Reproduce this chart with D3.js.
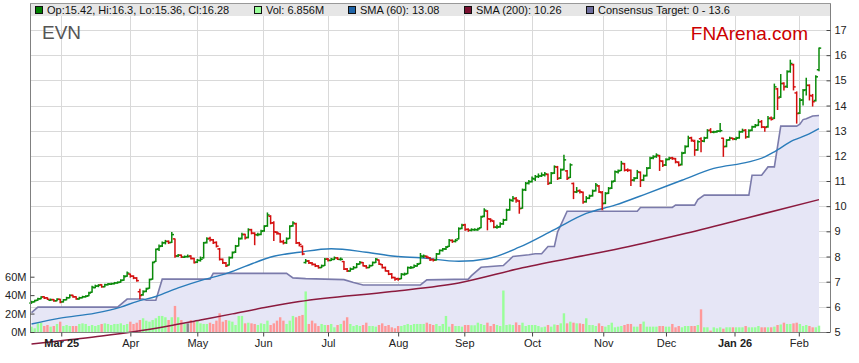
<!DOCTYPE html>
<html>
<head>
<meta charset="utf-8">
<script src="https://cdn.jsdelivr.net/npm/d3@7"></script>
<style>
body { margin: 0; background: #fff; }
svg { display: block; font-family: "Liberation Sans", Arial, sans-serif; }
</style>
</head>
<body>
<script>
const ticker = "EVN";
const site = "FNArena.com";

// US market holidays inside the range
const holidays = ["2025-02-17","2025-04-18","2025-05-26","2025-06-19","2025-07-04",
  "2025-09-01","2025-11-27","2025-12-25","2026-01-01","2026-01-19"];
const firstDay = new Date(2025, 1, 14);
const lastDay = new Date(2026, 1, 10);

// daily bars [open, high, low, close]
const ohlc = [
  [6.15,6.24,6.12,6.19],[6.20,6.28,6.18,6.25],[6.26,6.36,6.24,6.32],[6.32,6.42,6.30,6.39],[6.40,6.42,6.31,6.35],[6.36,6.38,6.27,6.30],[6.26,6.33,6.24,6.28],[6.29,6.31,6.20,6.24],[6.24,6.34,6.22,6.30],[6.30,6.32,6.14,6.19],
  [6.20,6.31,6.17,6.28],[6.28,6.40,6.26,6.36],[6.36,6.50,6.34,6.45],[6.46,6.48,6.36,6.40],[6.40,6.42,6.28,6.32],[6.31,6.40,6.29,6.36],[6.36,6.44,6.34,6.40],[6.40,6.46,6.37,6.42],[6.44,6.60,6.42,6.55],[6.58,6.84,6.56,6.78],
  [6.76,6.88,6.74,6.82],[6.83,6.90,6.78,6.86],[6.88,6.90,6.76,6.80],[6.80,6.92,6.78,6.88],[6.88,6.95,6.85,6.91],[6.90,6.96,6.87,6.92],[6.92,6.99,6.89,6.95],[6.95,7.01,6.92,6.97],[6.98,7.10,6.96,7.05],[7.06,7.26,7.04,7.20],
  [7.22,7.40,7.20,7.34],[7.30,7.32,7.16,7.22],[7.22,7.25,7.10,7.15],[7.14,7.18,7.00,7.04],[6.60,6.72,6.30,6.45],[6.48,6.66,6.44,6.60],[6.62,6.76,6.58,6.71],[6.74,7.12,6.72,7.08],[7.10,7.80,7.08,7.76],[7.80,8.32,7.78,8.28],
  [8.30,8.48,8.22,8.40],[8.42,8.60,8.38,8.54],[8.55,8.66,8.48,8.60],[8.60,8.64,8.50,8.55],[8.56,8.97,8.54,8.87],[8.70,8.72,7.95,8.02],[8.02,8.10,7.98,8.05],[8.05,8.08,7.94,7.98],[7.97,8.04,7.94,7.99],[8.00,8.08,7.96,8.00],
  [8.02,8.05,7.88,7.92],[7.92,7.95,7.72,7.76],[7.78,7.90,7.74,7.85],[7.84,8.00,7.80,7.89],[7.95,8.58,7.92,8.54],[8.56,8.76,8.52,8.70],[8.72,8.78,8.60,8.67],[8.66,8.70,8.50,8.55],[8.56,8.60,8.36,8.41],[8.30,8.34,7.84,7.89],
  [7.88,7.92,7.70,7.75],[7.74,7.78,7.58,7.63],[7.66,8.00,7.64,7.95],[7.96,8.20,7.92,8.15],[8.18,8.46,8.14,8.41],[8.42,8.76,8.40,8.70],[8.72,8.94,8.68,8.87],[8.88,8.90,8.68,8.74],[8.76,9.12,8.72,9.07],[9.06,9.10,8.88,8.93],
  [8.92,8.96,8.45,8.87],[8.86,8.94,8.80,8.87],[8.88,9.06,8.84,9.00],[9.02,9.24,8.98,9.20],[9.22,9.75,9.18,9.65],[9.60,9.64,9.28,9.33],[9.34,9.40,8.62,8.98],[8.96,9.00,8.86,8.93],[8.90,8.92,8.55,8.60],[8.58,8.66,8.48,8.54],
  [8.55,8.76,8.50,8.70],[8.72,9.24,8.70,9.20],[9.22,9.40,9.18,9.33],[9.30,9.34,8.50,8.54],[8.54,8.58,8.40,8.48],[8.40,8.44,8.05,8.10],[7.76,7.90,7.72,7.82],[7.82,7.86,7.70,7.75],[7.74,7.78,7.64,7.69],[7.68,7.72,7.58,7.63],
  [7.62,7.66,7.52,7.56],[7.56,7.68,7.54,7.63],[7.64,7.94,7.62,7.89],[7.90,7.94,7.80,7.85],[7.84,7.94,7.82,7.89],[7.88,8.00,7.86,7.95],[7.94,7.98,7.86,7.89],[7.88,7.96,7.84,7.89],[7.80,7.82,7.46,7.50],[7.50,7.54,7.38,7.43],
  [7.42,7.56,7.40,7.50],[7.50,7.62,7.48,7.56],[7.56,7.74,7.54,7.69],[7.70,7.82,7.68,7.76],[7.76,7.78,7.60,7.63],[7.62,7.66,7.52,7.56],[7.56,7.68,7.54,7.63],[7.64,7.80,7.62,7.76],[7.76,7.94,7.74,7.89],[7.86,7.88,7.66,7.70],
  [7.68,7.70,7.52,7.56],[7.56,7.60,7.40,7.43],[7.42,7.46,7.26,7.30],[7.30,7.34,7.12,7.17],[7.16,7.20,7.04,7.10],[7.12,7.16,7.04,7.10],[7.12,7.34,7.10,7.30],[7.28,7.36,7.24,7.30],[7.32,7.60,7.30,7.56],[7.55,7.62,7.50,7.56],
  [7.56,7.68,7.54,7.63],[7.62,7.74,7.60,7.69],[7.72,8.14,7.70,8.02],[8.00,8.08,7.94,8.02],[8.00,8.04,7.92,7.97],[7.95,7.98,7.82,7.87],[7.88,7.92,7.80,7.85],[7.86,8.14,7.84,8.10],[8.10,8.28,8.08,8.24],[8.24,8.34,8.20,8.30],
  [8.30,8.42,8.26,8.37],[8.40,8.70,8.38,8.64],[8.64,8.68,8.54,8.60],[8.60,8.70,8.56,8.64],[8.70,9.16,8.68,9.10],[9.12,9.30,9.08,9.24],[9.26,9.30,9.02,9.07],[9.08,9.12,8.98,9.04],[9.04,9.12,9.00,9.07],[9.06,9.12,9.02,9.07],
  [9.06,9.14,9.02,9.10],[9.14,9.62,9.12,9.57],[9.60,9.92,9.56,9.84],[9.80,9.84,9.04,9.50],[9.48,9.52,9.36,9.44],[9.40,9.44,9.12,9.17],[9.16,9.26,9.10,9.17],[9.18,9.36,9.14,9.30],[9.30,9.50,9.26,9.44],[9.46,9.90,9.42,9.84],
  [9.86,10.30,9.82,10.24],[10.22,10.40,10.18,10.31],[10.30,10.36,10.14,10.24],[10.20,10.24,9.70,9.90],[9.92,10.70,9.90,10.64],[10.66,10.96,10.60,10.90],[10.92,11.04,10.86,10.97],[10.98,11.18,10.94,11.10],[11.08,11.24,11.00,11.17],[11.18,11.30,11.12,11.20],
  [11.20,11.34,11.16,11.24],[11.24,11.36,11.18,11.28],[11.26,11.30,10.84,10.90],[10.92,11.36,10.88,11.30],[11.32,11.62,11.28,11.57],[11.55,11.60,11.04,11.10],[11.12,11.50,11.08,11.44],[11.46,12.04,11.42,11.84],[11.40,11.44,11.04,11.10],[11.14,11.70,11.12,11.64],
  [10.90,10.94,10.28,10.57],[10.56,10.76,10.52,10.60],[10.62,10.66,10.50,10.57],[10.55,10.58,10.10,10.17],[10.18,10.40,10.14,10.31],[10.32,10.46,10.28,10.40],[10.42,10.66,10.38,10.60],[10.62,10.92,10.58,10.84],[10.80,10.84,10.52,10.57],[10.54,10.60,9.84,10.10],
  [10.12,10.56,10.08,10.50],[10.52,10.76,10.48,10.70],[10.72,11.02,10.68,10.97],[11.00,11.42,10.96,11.37],[11.36,11.46,11.30,11.40],[11.42,11.80,11.40,11.70],[11.68,11.72,11.38,11.43],[11.44,11.50,11.36,11.43],[11.42,11.46,10.80,11.03],[11.04,11.16,10.98,11.10],
  [11.12,11.44,11.08,11.36],[11.34,11.38,10.76,11.03],[11.04,11.26,11.00,11.20],[11.22,11.56,11.18,11.50],[11.52,11.96,11.48,11.90],[11.92,12.02,11.86,11.96],[11.98,12.10,11.92,12.03],[12.00,12.04,11.40,11.80],[11.78,11.82,11.56,11.63],[11.64,11.90,11.60,11.85],
  [11.86,11.96,11.82,11.90],[11.92,11.96,11.84,11.90],[11.88,11.92,11.70,11.76],[11.74,11.78,11.58,11.63],[11.66,12.16,11.62,12.10],[12.12,12.42,12.08,12.36],[12.38,12.80,12.34,12.70],[12.72,12.76,12.56,12.62],[12.58,12.64,12.00,12.23],[12.24,12.62,12.20,12.56],
  [12.68,12.74,12.14,12.60],[12.58,12.76,12.54,12.70],[12.72,13.06,12.68,13.00],[13.02,13.10,12.90,12.95],[12.94,13.00,12.90,12.95],[12.96,13.02,12.92,12.98],[12.98,13.30,12.94,13.00],[12.70,12.72,11.96,12.36],[12.38,12.66,12.34,12.62],[12.64,12.76,12.60,12.70],
  [12.70,12.72,12.62,12.68],[12.66,12.76,12.62,12.70],[12.72,13.00,12.68,12.95],[12.96,13.08,12.92,13.00],[13.02,13.06,12.68,12.75],[12.76,13.06,12.72,13.00],[13.02,13.20,12.98,13.15],[13.16,13.26,13.12,13.20],[13.22,13.46,13.18,13.35],[13.36,13.42,13.10,13.15],
  [13.14,13.18,12.96,13.13],[13.16,13.58,13.12,13.48],[13.50,13.56,13.40,13.45],[13.50,14.87,13.46,14.74],[14.66,14.70,13.82,14.30],[14.34,15.25,14.30,14.87],[14.88,14.92,14.60,14.74],[14.76,15.40,14.70,15.34],[15.36,15.82,15.30,15.67],[15.62,15.66,14.60,14.74],
  [14.50,14.56,13.28,13.68],[13.70,14.30,13.66,14.21],[14.22,14.66,14.00,14.60],[14.62,15.10,14.40,14.80],[14.80,14.84,14.20,14.40],[14.38,14.46,13.96,14.15],[14.20,15.20,14.16,15.14],[15.42,16.30,15.36,16.28]
];

// daily volume, millions
const volumes = [
  5.8,4.0,9.4,10.1,6.5,7.6,5.8,6.5,8.7,11.2,
  6.5,7.6,6.5,6.5,6.5,8.7,9.4,8.7,6.5,7.6,
  6.5,7.6,8.7,9.4,8.7,7.6,8.7,8.7,9.4,7.6,
  8.7,11.2,8.7,10.1,13.0,14.9,12.3,11.2,13.0,14.9,
  17.4,17.4,16.0,13.0,16.0,28.3,16.0,13.0,8.7,9.4,
  13.0,11.2,12.3,9.4,8.7,8.7,10.1,8.7,12.3,20.3,
  11.2,13.0,12.3,11.2,7.6,17.4,17.4,9.4,10.1,9.4,
  8.7,7.6,9.4,8.7,12.3,7.6,9.4,12.3,16.0,12.3,
  8.7,12.3,17.4,16.0,17.4,18.5,44.0,8.7,12.3,9.4,
  6.5,8.7,7.6,7.6,8.7,5.1,7.6,8.7,12.3,16.0,
  8.7,6.5,7.6,6.5,7.6,10.1,6.5,6.5,5.8,7.6,
  9.4,6.5,7.6,5.1,4.0,6.5,6.5,7.6,8.7,7.6,
  8.7,8.7,8.7,8.7,10.1,8.7,7.6,8.7,6.5,8.7,
  17.4,5.8,8.7,6.5,6.5,5.8,7.6,7.6,7.3,7.3,
  10.1,8.7,7.6,10.1,6.5,8.7,7.6,6.5,45.0,7.6,
  8.2,7.6,10.4,7.6,10.1,6.5,7.6,7.6,7.6,6.5,
  5.1,5.8,7.6,5.8,8.2,7.6,9.4,20.3,9.4,11.2,
  10.1,9.4,9.4,8.7,14.9,7.6,7.6,6.5,9.4,6.5,
  5.8,7.6,10.1,5.1,5.8,6.5,7.6,8.7,8.7,5.8,
  5.8,8.7,11.3,5.8,5.8,5.8,5.8,6.5,6.5,5.8,
  5.8,8.7,5.1,6.5,5.1,6.5,6.5,6.5,6.5,7.6,
  24.6,5.1,5.1,1.5,5.1,4.0,5.1,3.6,5.1,5.1,
  5.1,5.1,5.1,5.1,6.5,5.1,5.1,5.1,6.5,5.1,
  5.1,5.1,5.1,5.8,7.6,8.2,10.1,8.7,8.7,9.4,
  10.1,8.7,6.5,7.6,6.5,5.1,5.1,6.856
];

// [bar index, value]
const sma60 = [[0,5.32],[9,5.55],[20,5.75],[28,5.99],[33,6.21],[39,6.41],[46,6.75],[54,7.08],
  [61,7.32],[67,7.61],[76,8.01],[84,8.17],[94,8.31],[105,8.17],[114,8.01],[122,7.95],[134,7.81],
  [143,7.91],[153,8.37],[164,9.07],[174,9.71],[183,10.04],[193,10.5],[204,11.03],[214,11.5],
  [225,11.76],[230,11.96],[233,12.16],[239,12.62],[243,12.82],[247,13.08]];
const sma200 = [[0,4.52],[11,4.68],[22,4.84],[32,5.01],[43,5.24],[53,5.48],[63,5.72],[74,5.99],
  [84,6.21],[113,6.61],[134,6.95],[154,7.55],[175,8.08],[183,8.28],[204,8.88],[225,9.55],[247,10.26]];
const target = [[0,5.77],[2,5.99],[27,5.99],[30,6.31],[35,6.31],[36,6.26],[39,6.26],[41,7.10],
  [56,7.10],[57,7.33],[80,7.33],[82,7.15],[86,7.12],[98,7.08],[101,6.97],[104,6.87],[122,6.87],
  [124,7.07],[137,7.10],[138,7.24],[141,7.57],[148,7.64],[151,8.00],[156,8.07],[158,8.11],[160,8.11],
  [162,8.40],[164,8.40],[165,8.97],[168,9.80],[190,9.80],[191,9.95],[201,9.95],[202,10.04],[208,10.04],
  [209,10.26],[211,10.44],[225,10.44],[226,11.23],[229,11.23],[231,11.56],[233,11.56],[235,13.18],
  [240,13.18],[241,13.26],[242,13.44],[243,13.47],[245,13.58],[247,13.60]];

const monthLabels = ["Mar 25","Apr","May","Jun","Jul","Aug","Sep","Oct","Nov","Dec","Jan 26","Feb"];
const priceTicks = [5,6,7,8,9,10,11,12,13,14,15,16,17];
const volTicks = [0,20,40,60];

// trading calendar
const fmtDay = d3.timeFormat("%Y-%m-%d");
const dates = d3.timeDay.range(firstDay, d3.timeDay.offset(lastDay, 1))
  .filter(d => d.getDay() !== 0 && d.getDay() !== 6 && !holidays.includes(fmtDay(d)));

const bars = dates.map((d, i) => ({
  date: d, open: ohlc[i][0], high: ohlc[i][1], low: ohlc[i][2], close: ohlc[i][3], vol: volumes[i]
}));

const width = 859, height = 363;
const plotL = 30, plotR = 830, plotT = 3, plotB = 332, bandB = 16;

const step = (819 - 31.5) / (dates.length - 1);
const x = d3.scaleTime()
  .domain(dates)
  .range(dates.map((d, i) => 31.5 + i * step));

const y = d3.scaleLinear().domain([5, 17]).range([plotB, 30]);
const yVol = d3.scaleLinear().domain([0, 60]).range([plotB, 276.7]);

const svg = d3.select("body").append("svg")
  .attr("width", width)
  .attr("height", height);

svg.append("rect").attr("width", width).attr("height", height).attr("fill", "#fff");

// legend band
svg.append("rect")
  .attr("x", plotL).attr("y", plotT)
  .attr("width", plotR - plotL).attr("height", bandB - plotT)
  .attr("fill", "#e6e6e6");

const monthTicks = x.ticks(d3.timeMonth.every(1));

// grid
const grid = svg.append("g").attr("stroke", "#d9d9d9").attr("stroke-width", 1);
grid.selectAll("line.h")
  .data(priceTicks.slice(1))
  .join("line")
    .attr("class", "h")
    .attr("x1", plotL).attr("x2", plotR)
    .attr("y1", d => Math.round(y(d)) + 0.5)
    .attr("y2", d => Math.round(y(d)) + 0.5);
grid.selectAll("line.v")
  .data(monthTicks)
  .join("line")
    .attr("class", "v")
    .attr("x1", d => Math.round(x(d)) + 0.5)
    .attr("x2", d => Math.round(x(d)) + 0.5)
    .attr("y1", bandB).attr("y2", plotB);

// consensus target area + line
const xi = i => x(dates[i]);
svg.append("path")
  .datum(target)
  .attr("fill", "#e6e6f6")
  .attr("d", d3.area().x(d => xi(d[0])).y0(plotB).y1(d => y(d[1])));
svg.append("path")
  .datum(target)
  .attr("fill", "none")
  .attr("stroke", "#7b7bab")
  .attr("stroke-width", 1.6)
  .attr("d", d3.line().x(d => xi(d[0])).y(d => y(d[1])));

// volume
const volColor = d => d.close > d.open ? "#99ff99" : d.close < d.open ? "#ff9999" : "#888888";
svg.append("g")
  .selectAll("rect")
  .data(bars)
  .join("rect")
    .attr("x", d => x(d.date) - 1.2)
    .attr("y", d => yVol(d.vol))
    .attr("width", 2.4)
    .attr("height", d => plotB - yVol(d.vol))
    .attr("fill", volColor);

// moving averages
svg.append("path")
  .datum(sma200)
  .attr("fill", "none")
  .attr("stroke", "#8b1a3e")
  .attr("stroke-width", 1.5)
  .attr("d", d3.line().curve(d3.curveMonotoneX).x(d => xi(d[0])).y(d => y(d[1])));
svg.append("path")
  .datum(sma60)
  .attr("fill", "none")
  .attr("stroke", "#2a7cba")
  .attr("stroke-width", 1.4)
  .attr("d", d3.line().curve(d3.curveMonotoneX).x(d => xi(d[0])).y(d => y(d[1])));

// price bars
const barColor = d => d.close >= d.open ? "#0a8a0a" : "#d40f0f";
const pg = svg.append("g").attr("stroke-width", 1.5);
const bar = pg.selectAll("g").data(bars).join("g").attr("stroke", barColor);
bar.append("line")
  .attr("x1", d => x(d.date)).attr("x2", d => x(d.date))
  .attr("y1", d => y(d.high)).attr("y2", d => y(d.low));
bar.append("line")
  .attr("x1", d => x(d.date) - 2.2).attr("x2", d => x(d.date))
  .attr("y1", d => y(d.open)).attr("y2", d => y(d.open));
bar.append("line")
  .attr("x1", d => x(d.date)).attr("x2", d => x(d.date) + 2.2)
  .attr("y1", d => y(d.close)).attr("y2", d => y(d.close));

// axes
const axisFont = g => g.selectAll("text")
  .attr("font-family", "Liberation Sans, Arial, sans-serif")
  .attr("font-size", 11)
  .attr("fill", "#222");

const xAxis = d3.axisBottom(x)
  .tickValues(monthTicks)
  .tickSize(4)
  .tickSizeOuter(0)
  .tickPadding(3)
  .tickFormat((d, i) => monthLabels[i]);
svg.append("g")
  .attr("transform", `translate(0,${plotB + 0.5})`)
  .call(xAxis)
  .call(axisFont)
  .call(g => g.select(".domain").attr("stroke", "#808080").attr("d", `M${plotL},0H${plotR}`))
  .call(g => g.selectAll(".tick line").attr("stroke", "#444"))
  .call(g => g.selectAll("text").attr("font-weight", d => monthLabels[monthTicks.indexOf(d)].includes(" ") ? "bold" : "normal"));

const yAxis = d3.axisRight(y)
  .tickValues(priceTicks)
  .tickSize(-4)
  .tickSizeOuter(0)
  .tickPadding(4);
svg.append("g")
  .attr("transform", `translate(${plotR + 0.5},0)`)
  .call(yAxis)
  .call(axisFont)
  .call(g => g.select(".domain").attr("stroke", "#808080").attr("d", `M0,${plotT}V${plotB}`))
  .call(g => g.selectAll(".tick line").attr("stroke", "#444"));

const volAxis = d3.axisLeft(yVol)
  .tickValues(volTicks)
  .tickSize(-4)
  .tickSizeOuter(0)
  .tickPadding(4)
  .tickFormat(d => d + "M");
svg.append("g")
  .attr("transform", `translate(${plotL + 0.5},0)`)
  .call(volAxis)
  .call(axisFont)
  .call(g => g.select(".domain").attr("stroke", "#808080").attr("d", `M0,${plotT}V${plotB}`))
  .call(g => g.selectAll(".tick line").attr("stroke", "#444"));

// top border
svg.append("line")
  .attr("x1", plotL).attr("x2", plotR + 1)
  .attr("y1", plotT + 0.5).attr("y2", plotT + 0.5)
  .attr("stroke", "#999");

// legend
const last = bars[bars.length - 1];
const legend = [
  { x: 35, fill: "#008000", text: `Op:${last.open}, Hi:${last.high}, Lo:${last.low}, Cl:${last.close}` },
  { x: 254, fill: "#99ff99", text: `Vol: ${last.vol}M` },
  { x: 348, fill: "#1f64a8", text: `SMA (60): ${sma60[sma60.length - 1][1]}` },
  { x: 464, fill: "#7a1030", text: `SMA (200): ${sma200[sma200.length - 1][1]}` },
  { x: 586, fill: "#6e6e9e", text: `Consensus Target: 0 - ${target[target.length - 1][1]}` }
];
const lg = svg.append("g").selectAll("g").data(legend).join("g")
  .attr("transform", d => `translate(${d.x},0)`);
lg.append("rect")
  .attr("x", 0.5).attr("y", 6.5).attr("width", 7).attr("height", 7)
  .attr("fill", d => d.fill).attr("stroke", "#111");
lg.append("text")
  .attr("x", 12).attr("y", 14)
  .attr("font-size", 11).attr("fill", "#111")
  .text(d => d.text);

svg.append("text")
  .attr("x", 42).attr("y", 39)
  .attr("font-size", 19).attr("fill", "#555")
  .text(ticker);
svg.append("text")
  .attr("x", 808).attr("y", 40)
  .attr("text-anchor", "end")
  .attr("font-size", 19).attr("fill", "#cc0000")
  .text(site);
</script>
</body>
</html>
